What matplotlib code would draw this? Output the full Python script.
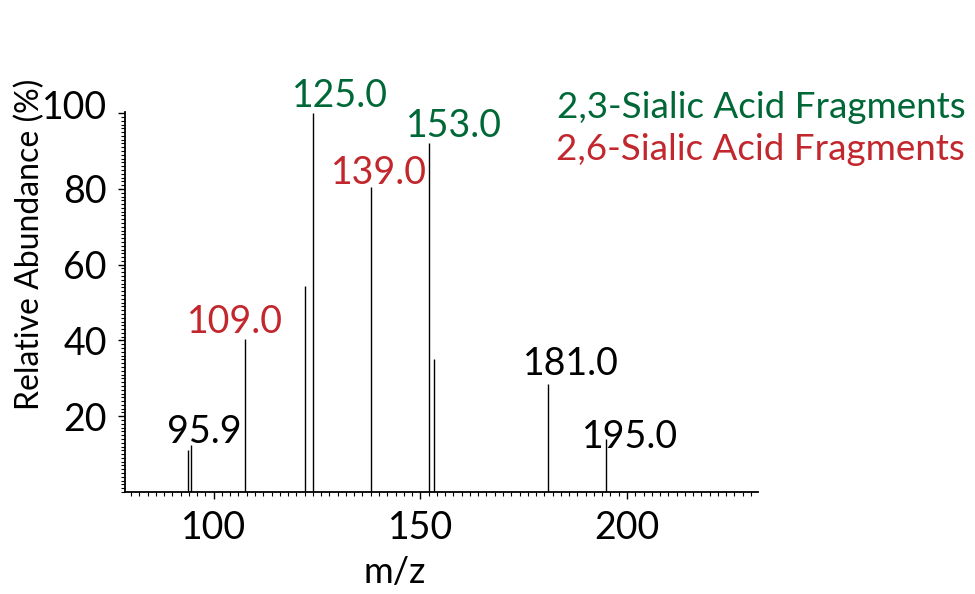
import matplotlib
matplotlib.use("Agg")
import matplotlib.pyplot as plt
import matplotlib.transforms as mtransforms
from matplotlib.ticker import MultipleLocator, FixedLocator

# peak positions (m/z) and relative abundance (%)
PEAK_MZ = [93.8, 94.6, 107.7, 122.0, 124.0, 138.0, 152.2, 153.3, 180.8, 194.9]
PEAK_INT = [11.0, 12.5, 40.5, 54.5, 100.0, 80.5, 92.0, 35.0, 28.5, 14.0]

# peak annotations: text, x, y (baseline), colour
LABEL_TEXT = ["95.9", "109.0", "125.0", "139.0", "153.0", "181.0", "195.0"]
LABEL_X = [97.8, 105.2, 130.6, 140.1, 158.2, 186.5, 200.8]
LABEL_Y = [13.0, 42.0, 101.6, 81.2, 93.6, 30.8, 11.7]
GREEN = "#006837"
RED = "#c1272d"
LABEL_COLOR = ["black", RED, GREEN, RED, GREEN, "black", "black"]

LEGEND_TEXT = ["2,3-Sialic Acid Fragments", "2,6-Sialic Acid Fragments"]
LEGEND_COLOR = [GREEN, RED]

X_TICKS = [100, 150, 200]
Y_TICKS = [20, 40, 60, 80, 100]

plt.rcParams["font.family"] = ["Lato", "DejaVu Sans"]

fig = plt.figure(figsize=(9.75, 5.94), dpi=100)
ax = fig.add_axes([0.128, 0.1717, 0.649, 0.6397])

ax.vlines(PEAK_MZ, 0, PEAK_INT, color="black", linewidth=1.0)

for text, x, y, c in zip(LABEL_TEXT, LABEL_X, LABEL_Y, LABEL_COLOR):
    ax.text(x, y, text, color=c, fontsize=27, ha="center", va="baseline")

ax.set_xlim(78.5, 231.6)
ax.set_ylim(0, 100.3)

ax.spines["top"].set_visible(False)
ax.spines["right"].set_visible(False)
ax.spines["left"].set_linewidth(1.3)
ax.spines["bottom"].set_linewidth(1.3)

ax.xaxis.set_major_locator(FixedLocator(X_TICKS))
ax.xaxis.set_minor_locator(MultipleLocator(2))
ax.yaxis.set_major_locator(FixedLocator(Y_TICKS))
ax.yaxis.set_minor_locator(MultipleLocator(1))
ax.tick_params(axis="both", which="major", labelsize=27, length=5, width=1.0, pad=8)
ax.tick_params(axis="both", which="minor", length=3, width=0.8)

# the "100" label sits a little above its tick in the original
fig.canvas.draw()
shift = mtransforms.ScaledTranslation(0, 9 / 100, fig.dpi_scale_trans)
ylabels = ax.get_yticklabels()
ylabels[-1].set_transform(ylabels[-1].get_transform() + shift)

fig.text(0.031, 0.589, "Relative Abundance (%)", rotation=90, fontsize=23,
         ha="center", va="center")
fig.text(0.405, 0.037, "m/z", fontsize=26, ha="center", va="center")

fig.text(0.99, 0.801, LEGEND_TEXT[0], color=LEGEND_COLOR[0], fontsize=26.5,
         ha="right", va="baseline")
fig.text(0.99, 0.731, LEGEND_TEXT[1], color=LEGEND_COLOR[1], fontsize=26.5,
         ha="right", va="baseline")

fig.savefig("out.png", dpi=100)
